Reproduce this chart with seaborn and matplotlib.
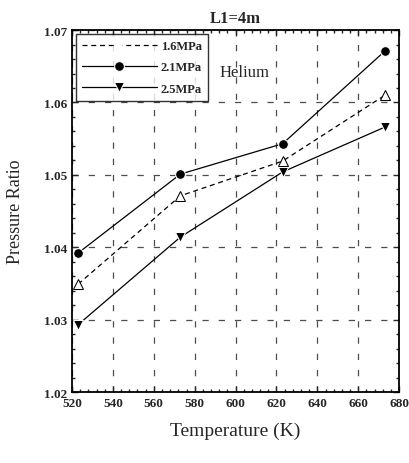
import numpy as np
import pandas as pd
import matplotlib
matplotlib.use("Agg")
import matplotlib.pyplot as plt
import seaborn as sns
from matplotlib.ticker import MultipleLocator, FormatStrFormatter

temperature = [523, 573, 623, 673]
p16 = [1.0349, 1.0471, 1.0519, 1.0610]
p21 = [1.0392, 1.0501, 1.0543, 1.0671]
p25 = [1.0293, 1.0414, 1.0504, 1.0566]
series_names = ["1.6MPa", "2.1MPa", "2.5MPa"]
x_ticks = [520, 540, 560, 580, 600, 620, 640, 660, 680]
y_ticks = [1.02, 1.03, 1.04, 1.05, 1.06, 1.07]

rows = []
for name, vals in zip(series_names, [p16, p21, p25]):
    for t, v in zip(temperature, vals):
        rows.append({"Temperature": t, "Ratio": v, "Series": name})
df = pd.DataFrame(rows)

sns.set_style("ticks")
plt.rcParams["font.family"] = ["Liberation Serif", "DejaVu Serif"]

fig = plt.figure(figsize=(4.09, 4.64), dpi=100)
ax = fig.add_axes([0.176, 0.153, 0.8, 0.78])

sns.lineplot(data=df, x="Temperature", y="Ratio", hue="Series", style="Series",
             hue_order=series_names, style_order=series_names,
             palette={n: "black" for n in series_names},
             markers={"1.6MPa": "^", "2.1MPa": "o", "2.5MPa": "v"},
             dashes={"1.6MPa": (4, 3), "2.1MPa": "", "2.5MPa": ""},
             linewidth=0.9, markersize=7, ax=ax, legend=True)

lines = [l for l in ax.lines if len(l.get_xdata()) == len(temperature)]
if lines:
    lines[0].set_markerfacecolor("white")
    lines[0].set_markeredgecolor("black")

ax.set_xlim(520, 680)
ax.set_ylim(1.02, 1.07)
ax.set_xticks(x_ticks)
ax.set_yticks(y_ticks)
ax.yaxis.set_major_formatter(FormatStrFormatter("%.2f"))
ax.xaxis.set_minor_locator(MultipleLocator(4))
ax.yaxis.set_minor_locator(MultipleLocator(0.002))
ax.tick_params(which="both", direction="in", top=True, right=True, labelsize=9.5, width=1)
ax.tick_params(which="major", length=4)
ax.tick_params(which="minor", length=2)
for lab in ax.get_xticklabels() + ax.get_yticklabels():
    lab.set_fontweight("bold")
for s in ax.spines.values():
    s.set_linewidth(1.3)
    s.set_color("black")

ax.grid(True, which="major", linestyle=(0, (5, 8)), color="0.3", linewidth=0.9)
ax.set_axisbelow(True)

ax.set_xlabel("Temperature (K)", fontsize=14, labelpad=9)
ax.set_ylabel("Pressure Ratio", fontsize=13, labelpad=14)
ax.set_title("L1=4m", fontsize=12, fontweight="bold", pad=6)
ax.text(0.45, 0.885, "Helium", transform=ax.transAxes, fontsize=12, ha="left", va="center")

handles, labels = ax.get_legend_handles_labels()
leg = ax.legend(handles, labels, loc="upper left", bbox_to_anchor=(0.0, 1.0),
                frameon=True, fancybox=False, edgecolor="black", fontsize=9,
                handlelength=6, borderpad=0.5, labelspacing=0.75, handletextpad=0.3,
                borderaxespad=0.3)
leg.get_frame().set_linewidth(1.0)
for t in leg.get_texts():
    t.set_fontweight("bold")
lh = leg.get_lines()
if lh:
    lh[0].set_markerfacecolor("white")

fig.savefig("out.png", dpi=100)
